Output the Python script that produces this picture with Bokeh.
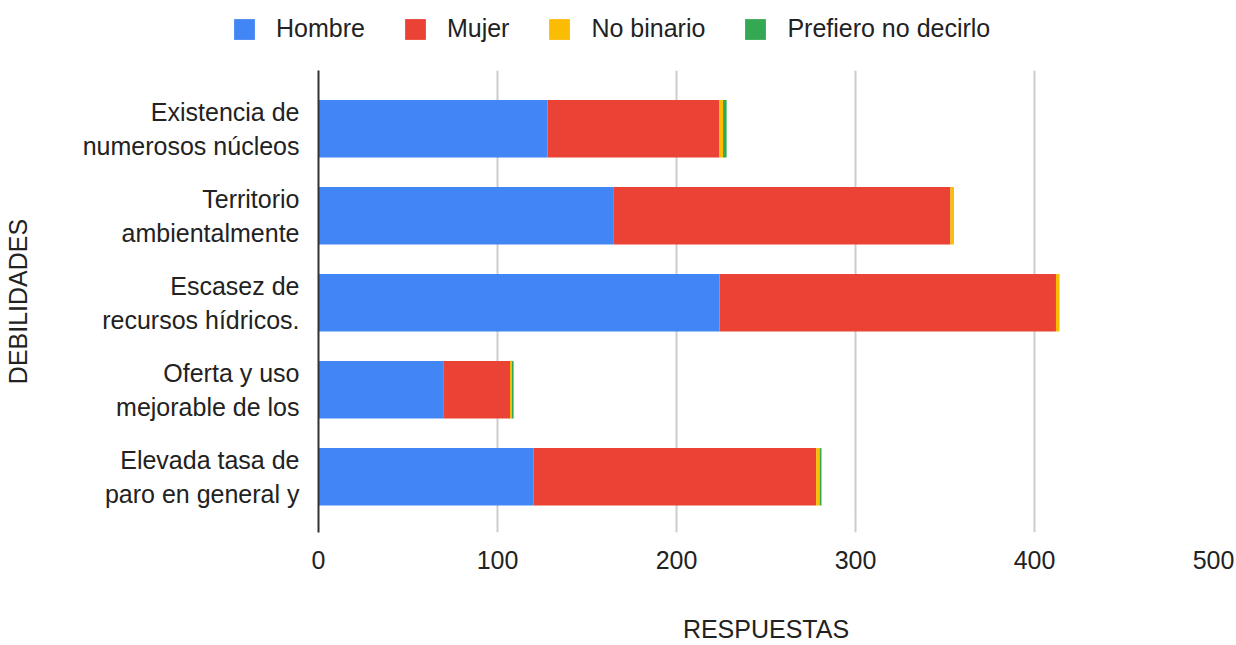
from bokeh.plotting import figure
from bokeh.layouts import column
from bokeh.models import ColumnDataSource, Legend, LegendItem, FixedTicker, Range1d
from bokeh.embed import file_html
from bokeh.resources import INLINE

categories = [
    "Existencia de\nnumerosos núcleos",
    "Territorio\nambientalmente",
    "Escasez de\nrecursos hídricos.",
    "Oferta y uso\nmejorable de los",
    "Elevada tasa de\nparo en general y",
]
series = ["Hombre", "Mujer", "No binario", "Prefiero no decirlo"]
hombre = [128, 165, 224, 70, 120]
mujer = [96, 188, 188, 37, 158]
no_binario = [2, 2, 2, 1, 2]
prefiero = [2, 0, 0, 1, 1]
colors = ["#4285F4", "#EA4335", "#FBBC04", "#34A853"]
x_ticks = [0, 100, 200, 300, 400, 500]

FONT = "Liberation Sans"
FS = "25px"
ypos = list(range(len(categories) - 1, -1, -1))

source = ColumnDataSource(data={
    "y": ypos,
    "Hombre": hombre,
    "Mujer": mujer,
    "No binario": no_binario,
    "Prefiero no decirlo": prefiero,
})

# ---- legend strip ----
top = figure(width=1236, height=70, output_backend="svg", toolbar_location=None,
             x_range=Range1d(0, 1), y_range=Range1d(0, 1),
             x_axis_location=None, y_axis_location=None,
             min_border=0, min_border_left=0, min_border_right=0,
             min_border_top=0, min_border_bottom=0)
top.grid.visible = False
top.outline_line_color = None
dummy = [top.rect(x=[-5], y=[-5], width=0.01, height=0.01, fill_color=c, line_color=None)
         for c in colors]
legend = Legend(items=[LegendItem(label=s, renderers=[r]) for s, r in zip(series, dummy)],
                orientation="horizontal", location=(231, 27))
legend.glyph_width = 26
legend.glyph_height = 26
legend.label_standoff = 19
legend.spacing = 37
legend.padding = 0
legend.margin = 0
legend.border_line_color = None
legend.background_fill_alpha = 0
legend.label_text_font = FONT
legend.label_text_font_size = FS
legend.label_text_color = "#222222"
top.add_layout(legend, "center")

# ---- main chart ----
p = figure(width=1236, height=575, output_backend="svg", toolbar_location=None,
           x_range=Range1d(0, 500), y_range=Range1d(-0.64, 4.67),
           min_border_left=316, min_border_right=23, min_border_top=0, min_border_bottom=108)

p.hbar_stack(series, y="y", height=0.66, color=colors, line_color=None, source=source)

p.outline_line_color = None
p.ygrid.grid_line_color = None
p.xgrid.grid_line_color = "#cccccc"
p.xgrid.grid_line_width = 2
p.xaxis.ticker = FixedTicker(ticks=x_ticks)
p.yaxis.ticker = FixedTicker(ticks=ypos)
p.yaxis.major_label_overrides = {y: c for y, c in zip(ypos, categories)}

for ax in (p.xaxis, p.yaxis):
    ax.major_tick_line_color = None
    ax.minor_tick_line_color = None
    ax.major_label_text_font = FONT
    ax.major_label_text_font_size = FS
    ax.major_label_text_color = "#222222"
    ax.axis_label_text_font = FONT
    ax.axis_label_text_font_size = FS
    ax.axis_label_text_font_style = "normal"
    ax.axis_label_text_color = "#222222"

p.xaxis.axis_line_color = None
p.yaxis.axis_line_color = "#333333"
p.yaxis.axis_line_width = 2
p.xaxis.axis_label = "RESPUESTAS"
p.yaxis.axis_label = "DEBILIDADES"
p.xaxis.major_label_standoff = 12
p.xaxis.axis_label_standoff = 43
p.yaxis.major_label_standoff = 13
p.yaxis.axis_label_standoff = 48

layout = column(column(top, spacing=0), p, spacing=0)
open("out.html", "w").write(file_html(layout, INLINE))
